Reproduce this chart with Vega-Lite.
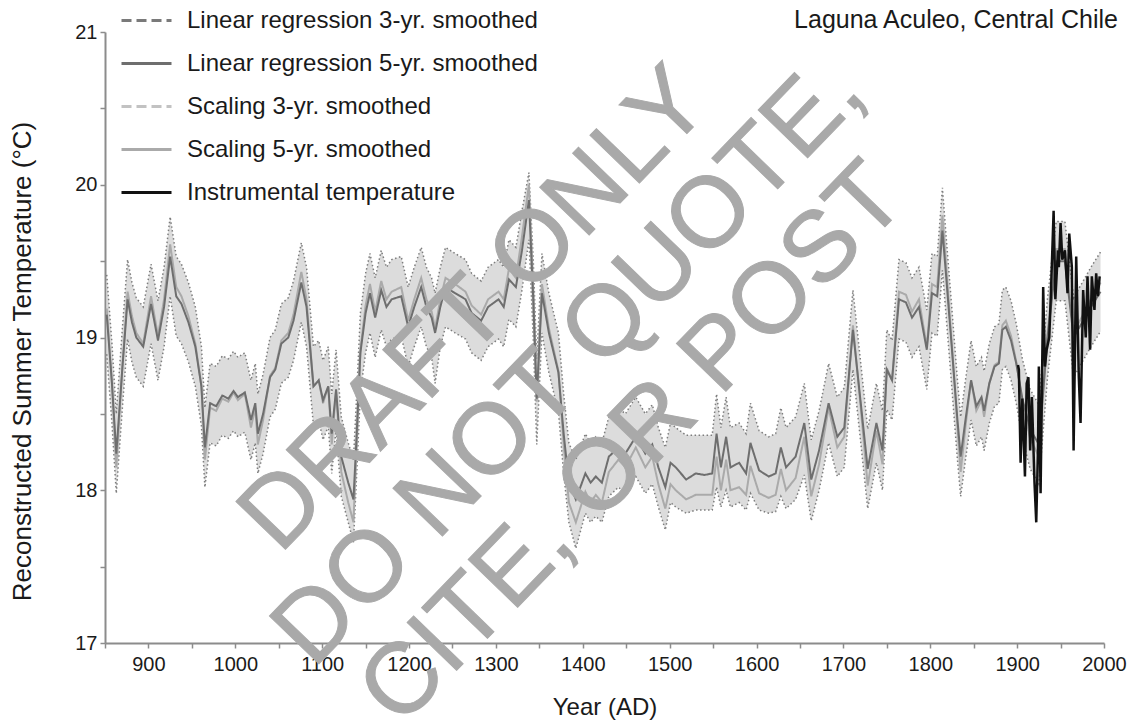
{
  "$schema": "https://vega.github.io/schema/vega-lite/v6.json",
  "width": 999,
  "height": 611,
  "autosize": {"type": "none"},
  "padding": {"left": 105, "top": 32, "right": 31, "bottom": 80},
  "background": "white",
  "config": {
    "font": "Liberation Sans",
    "view": {"stroke": null},
    "axis": {"grid": false}
  },
  "datasets": {
    "rec": [
      {"year": 852, "lr": 19.15, "sc": 19.19, "lo": 18.89, "hi": 19.41},
      {"year": 858, "lr": 18.70, "sc": 18.70, "lo": 18.44, "hi": 18.96},
      {"year": 863, "lr": 18.24, "sc": 18.15, "lo": 17.98, "hi": 18.50},
      {"year": 870, "lr": 18.80, "sc": 18.81, "lo": 18.54, "hi": 19.06},
      {"year": 876, "lr": 19.25, "sc": 19.30, "lo": 18.99, "hi": 19.51},
      {"year": 881, "lr": 19.10, "sc": 19.14, "lo": 18.84, "hi": 19.36},
      {"year": 886, "lr": 19.00, "sc": 19.03, "lo": 18.74, "hi": 19.26},
      {"year": 894, "lr": 18.94, "sc": 18.96, "lo": 18.68, "hi": 19.20},
      {"year": 903, "lr": 19.22, "sc": 19.27, "lo": 18.96, "hi": 19.48},
      {"year": 911, "lr": 18.98, "sc": 19.01, "lo": 18.72, "hi": 19.24},
      {"year": 918, "lr": 19.20, "sc": 19.25, "lo": 18.94, "hi": 19.46},
      {"year": 925, "lr": 19.53, "sc": 19.61, "lo": 19.27, "hi": 19.79},
      {"year": 932, "lr": 19.27, "sc": 19.33, "lo": 19.01, "hi": 19.53},
      {"year": 938, "lr": 19.22, "sc": 19.27, "lo": 18.96, "hi": 19.48},
      {"year": 946, "lr": 19.10, "sc": 19.14, "lo": 18.84, "hi": 19.36},
      {"year": 954, "lr": 18.94, "sc": 18.96, "lo": 18.68, "hi": 19.20},
      {"year": 961, "lr": 18.68, "sc": 18.68, "lo": 18.42, "hi": 18.94},
      {"year": 965, "lr": 18.28, "sc": 18.20, "lo": 18.02, "hi": 18.54},
      {"year": 971, "lr": 18.57, "sc": 18.54, "lo": 18.31, "hi": 18.83},
      {"year": 978, "lr": 18.55, "sc": 18.52, "lo": 18.29, "hi": 18.81},
      {"year": 985, "lr": 18.62, "sc": 18.60, "lo": 18.36, "hi": 18.88},
      {"year": 992, "lr": 18.60, "sc": 18.58, "lo": 18.34, "hi": 18.86},
      {"year": 998, "lr": 18.65, "sc": 18.64, "lo": 18.39, "hi": 18.91},
      {"year": 1003, "lr": 18.61, "sc": 18.59, "lo": 18.35, "hi": 18.87},
      {"year": 1011, "lr": 18.64, "sc": 18.63, "lo": 18.38, "hi": 18.90},
      {"year": 1018, "lr": 18.46, "sc": 18.41, "lo": 18.20, "hi": 18.72},
      {"year": 1023, "lr": 18.57, "sc": 18.54, "lo": 18.31, "hi": 18.83},
      {"year": 1026, "lr": 18.37, "sc": 18.30, "lo": 18.11, "hi": 18.63},
      {"year": 1032, "lr": 18.50, "sc": 18.46, "lo": 18.24, "hi": 18.76},
      {"year": 1040, "lr": 18.74, "sc": 18.75, "lo": 18.48, "hi": 19.00},
      {"year": 1046, "lr": 18.79, "sc": 18.80, "lo": 18.53, "hi": 19.05},
      {"year": 1053, "lr": 18.96, "sc": 18.98, "lo": 18.70, "hi": 19.22},
      {"year": 1061, "lr": 19.00, "sc": 19.03, "lo": 18.74, "hi": 19.26},
      {"year": 1067, "lr": 19.11, "sc": 19.15, "lo": 18.85, "hi": 19.37},
      {"year": 1076, "lr": 19.36, "sc": 19.43, "lo": 19.10, "hi": 19.62},
      {"year": 1082, "lr": 19.20, "sc": 19.25, "lo": 18.94, "hi": 19.46},
      {"year": 1086, "lr": 18.94, "sc": 18.96, "lo": 18.68, "hi": 19.20},
      {"year": 1090, "lr": 18.68, "sc": 18.68, "lo": 18.42, "hi": 18.94},
      {"year": 1096, "lr": 18.72, "sc": 18.72, "lo": 18.46, "hi": 18.98},
      {"year": 1101, "lr": 18.59, "sc": 18.57, "lo": 18.33, "hi": 18.85},
      {"year": 1107, "lr": 18.68, "sc": 18.68, "lo": 18.42, "hi": 18.94},
      {"year": 1111, "lr": 18.37, "sc": 18.30, "lo": 18.11, "hi": 18.63},
      {"year": 1116, "lr": 18.66, "sc": 18.65, "lo": 18.40, "hi": 18.92},
      {"year": 1122, "lr": 18.22, "sc": 18.12, "lo": 17.96, "hi": 18.48},
      {"year": 1130, "lr": 18.05, "sc": 17.92, "lo": 17.79, "hi": 18.31},
      {"year": 1136, "lr": 17.94, "sc": 17.79, "lo": 17.66, "hi": 18.20},
      {"year": 1139, "lr": 18.28, "sc": 18.20, "lo": 18.02, "hi": 18.54},
      {"year": 1144, "lr": 18.90, "sc": 18.92, "lo": 18.64, "hi": 19.16},
      {"year": 1150, "lr": 19.16, "sc": 19.21, "lo": 18.90, "hi": 19.42},
      {"year": 1155, "lr": 19.29, "sc": 19.35, "lo": 19.03, "hi": 19.55},
      {"year": 1161, "lr": 19.13, "sc": 19.17, "lo": 18.87, "hi": 19.39},
      {"year": 1168, "lr": 19.31, "sc": 19.37, "lo": 19.05, "hi": 19.57},
      {"year": 1174, "lr": 19.20, "sc": 19.25, "lo": 18.94, "hi": 19.46},
      {"year": 1180, "lr": 19.25, "sc": 19.30, "lo": 18.99, "hi": 19.51},
      {"year": 1191, "lr": 19.27, "sc": 19.33, "lo": 19.01, "hi": 19.53},
      {"year": 1199, "lr": 19.07, "sc": 19.11, "lo": 18.81, "hi": 19.33},
      {"year": 1206, "lr": 19.20, "sc": 19.25, "lo": 18.94, "hi": 19.46},
      {"year": 1214, "lr": 19.33, "sc": 19.39, "lo": 19.07, "hi": 19.59},
      {"year": 1220, "lr": 19.20, "sc": 19.25, "lo": 18.94, "hi": 19.46},
      {"year": 1226, "lr": 19.13, "sc": 19.17, "lo": 18.87, "hi": 19.39},
      {"year": 1230, "lr": 19.03, "sc": 19.06, "lo": 18.70, "hi": 19.29},
      {"year": 1236, "lr": 19.20, "sc": 19.25, "lo": 18.94, "hi": 19.46},
      {"year": 1242, "lr": 19.33, "sc": 19.39, "lo": 19.07, "hi": 19.59},
      {"year": 1253, "lr": 19.29, "sc": 19.35, "lo": 19.03, "hi": 19.55},
      {"year": 1265, "lr": 19.25, "sc": 19.30, "lo": 18.99, "hi": 19.51},
      {"year": 1272, "lr": 19.16, "sc": 19.21, "lo": 18.90, "hi": 19.42},
      {"year": 1283, "lr": 19.11, "sc": 19.15, "lo": 18.85, "hi": 19.37},
      {"year": 1291, "lr": 19.20, "sc": 19.25, "lo": 18.94, "hi": 19.46},
      {"year": 1303, "lr": 19.25, "sc": 19.30, "lo": 18.99, "hi": 19.51},
      {"year": 1309, "lr": 19.20, "sc": 19.25, "lo": 18.94, "hi": 19.46},
      {"year": 1315, "lr": 19.38, "sc": 19.45, "lo": 19.12, "hi": 19.64},
      {"year": 1323, "lr": 19.33, "sc": 19.39, "lo": 19.07, "hi": 19.59},
      {"year": 1330, "lr": 19.57, "sc": 19.66, "lo": 19.31, "hi": 19.83},
      {"year": 1338, "lr": 19.90, "sc": 20.00, "lo": 19.64, "hi": 20.08},
      {"year": 1343, "lr": 19.25, "sc": 19.30, "lo": 18.99, "hi": 19.51},
      {"year": 1347, "lr": 18.60, "sc": 18.58, "lo": 18.30, "hi": 18.86},
      {"year": 1353, "lr": 19.29, "sc": 19.35, "lo": 19.03, "hi": 19.55},
      {"year": 1361, "lr": 19.03, "sc": 19.06, "lo": 18.77, "hi": 19.29},
      {"year": 1372, "lr": 18.77, "sc": 18.78, "lo": 18.51, "hi": 19.03},
      {"year": 1378, "lr": 18.37, "sc": 18.30, "lo": 18.11, "hi": 18.63},
      {"year": 1384, "lr": 18.05, "sc": 17.92, "lo": 17.79, "hi": 18.31},
      {"year": 1392, "lr": 17.94, "sc": 17.79, "lo": 17.62, "hi": 18.20},
      {"year": 1403, "lr": 18.11, "sc": 17.99, "lo": 17.85, "hi": 18.37},
      {"year": 1409, "lr": 18.05, "sc": 17.92, "lo": 17.79, "hi": 18.31},
      {"year": 1415, "lr": 18.09, "sc": 17.97, "lo": 17.83, "hi": 18.35},
      {"year": 1422, "lr": 18.05, "sc": 17.92, "lo": 17.79, "hi": 18.31},
      {"year": 1430, "lr": 18.22, "sc": 18.12, "lo": 17.96, "hi": 18.48},
      {"year": 1441, "lr": 18.28, "sc": 18.20, "lo": 18.02, "hi": 18.54},
      {"year": 1449, "lr": 18.24, "sc": 18.15, "lo": 17.98, "hi": 18.50},
      {"year": 1461, "lr": 18.35, "sc": 18.28, "lo": 18.09, "hi": 18.61},
      {"year": 1472, "lr": 18.24, "sc": 18.15, "lo": 17.98, "hi": 18.50},
      {"year": 1480, "lr": 18.30, "sc": 18.22, "lo": 18.04, "hi": 18.56},
      {"year": 1487, "lr": 18.15, "sc": 18.04, "lo": 17.89, "hi": 18.41},
      {"year": 1495, "lr": 18.02, "sc": 17.88, "lo": 17.74, "hi": 18.28},
      {"year": 1501, "lr": 18.18, "sc": 18.04, "lo": 17.92, "hi": 18.44},
      {"year": 1507, "lr": 18.15, "sc": 18.00, "lo": 17.89, "hi": 18.41},
      {"year": 1519, "lr": 18.07, "sc": 17.94, "lo": 17.85, "hi": 18.36},
      {"year": 1530, "lr": 18.11, "sc": 17.97, "lo": 17.87, "hi": 18.36},
      {"year": 1540, "lr": 18.10, "sc": 17.97, "lo": 17.87, "hi": 18.36},
      {"year": 1549, "lr": 18.11, "sc": 17.97, "lo": 17.87, "hi": 18.36},
      {"year": 1554, "lr": 18.37, "sc": 18.22, "lo": 18.02, "hi": 18.63},
      {"year": 1559, "lr": 18.15, "sc": 18.00, "lo": 17.89, "hi": 18.41},
      {"year": 1565, "lr": 18.35, "sc": 18.20, "lo": 18.00, "hi": 18.61},
      {"year": 1570, "lr": 18.15, "sc": 18.00, "lo": 17.89, "hi": 18.41},
      {"year": 1580, "lr": 18.18, "sc": 18.02, "lo": 17.92, "hi": 18.44},
      {"year": 1588, "lr": 18.11, "sc": 17.97, "lo": 17.87, "hi": 18.37},
      {"year": 1593, "lr": 18.31, "sc": 18.16, "lo": 17.98, "hi": 18.57},
      {"year": 1603, "lr": 18.13, "sc": 17.98, "lo": 17.87, "hi": 18.39},
      {"year": 1614, "lr": 18.09, "sc": 17.95, "lo": 17.85, "hi": 18.35},
      {"year": 1622, "lr": 18.11, "sc": 17.97, "lo": 17.86, "hi": 18.37},
      {"year": 1628, "lr": 18.28, "sc": 18.14, "lo": 17.96, "hi": 18.54},
      {"year": 1634, "lr": 18.15, "sc": 18.00, "lo": 17.88, "hi": 18.41},
      {"year": 1645, "lr": 18.22, "sc": 18.08, "lo": 17.94, "hi": 18.48},
      {"year": 1655, "lr": 18.44, "sc": 18.35, "lo": 18.10, "hi": 18.70},
      {"year": 1663, "lr": 18.07, "sc": 17.96, "lo": 17.80, "hi": 18.33},
      {"year": 1672, "lr": 18.26, "sc": 18.17, "lo": 18.00, "hi": 18.52},
      {"year": 1683, "lr": 18.57, "sc": 18.54, "lo": 18.31, "hi": 18.83},
      {"year": 1693, "lr": 18.35, "sc": 18.28, "lo": 18.09, "hi": 18.61},
      {"year": 1701, "lr": 18.41, "sc": 18.35, "lo": 18.15, "hi": 18.67},
      {"year": 1711, "lr": 19.05, "sc": 19.08, "lo": 18.79, "hi": 19.31},
      {"year": 1720, "lr": 18.57, "sc": 18.54, "lo": 18.31, "hi": 18.83},
      {"year": 1728, "lr": 18.14, "sc": 18.03, "lo": 17.88, "hi": 18.40},
      {"year": 1738, "lr": 18.44, "sc": 18.39, "lo": 18.18, "hi": 18.70},
      {"year": 1745, "lr": 18.26, "sc": 18.17, "lo": 18.00, "hi": 18.52},
      {"year": 1750, "lr": 18.79, "sc": 18.80, "lo": 18.53, "hi": 19.05},
      {"year": 1756, "lr": 18.72, "sc": 18.72, "lo": 18.46, "hi": 18.98},
      {"year": 1764, "lr": 19.25, "sc": 19.30, "lo": 18.99, "hi": 19.51},
      {"year": 1772, "lr": 19.23, "sc": 19.28, "lo": 18.97, "hi": 19.49},
      {"year": 1779, "lr": 19.13, "sc": 19.17, "lo": 18.87, "hi": 19.39},
      {"year": 1787, "lr": 19.20, "sc": 19.25, "lo": 18.94, "hi": 19.46},
      {"year": 1796, "lr": 18.92, "sc": 18.94, "lo": 18.66, "hi": 19.18},
      {"year": 1802, "lr": 19.29, "sc": 19.35, "lo": 19.03, "hi": 19.55},
      {"year": 1808, "lr": 19.27, "sc": 19.33, "lo": 19.01, "hi": 19.53},
      {"year": 1814, "lr": 19.70, "sc": 19.80, "lo": 19.44, "hi": 19.98},
      {"year": 1818, "lr": 19.42, "sc": 19.49, "lo": 19.16, "hi": 19.68},
      {"year": 1825, "lr": 18.92, "sc": 18.94, "lo": 18.66, "hi": 19.18},
      {"year": 1831, "lr": 18.48, "sc": 18.44, "lo": 18.22, "hi": 18.74},
      {"year": 1835, "lr": 18.22, "sc": 18.12, "lo": 17.96, "hi": 18.48},
      {"year": 1841, "lr": 18.48, "sc": 18.44, "lo": 18.22, "hi": 18.74},
      {"year": 1847, "lr": 18.72, "sc": 18.72, "lo": 18.46, "hi": 18.98},
      {"year": 1853, "lr": 18.55, "sc": 18.52, "lo": 18.29, "hi": 18.81},
      {"year": 1859, "lr": 18.61, "sc": 18.59, "lo": 18.35, "hi": 18.87},
      {"year": 1862, "lr": 18.52, "sc": 18.48, "lo": 18.26, "hi": 18.78},
      {"year": 1868, "lr": 18.70, "sc": 18.70, "lo": 18.44, "hi": 18.96},
      {"year": 1874, "lr": 18.81, "sc": 18.82, "lo": 18.55, "hi": 19.07},
      {"year": 1879, "lr": 18.83, "sc": 18.84, "lo": 18.57, "hi": 19.09},
      {"year": 1883, "lr": 19.05, "sc": 19.08, "lo": 18.79, "hi": 19.31},
      {"year": 1887, "lr": 19.07, "sc": 19.11, "lo": 18.81, "hi": 19.33},
      {"year": 1893, "lr": 18.98, "sc": 19.01, "lo": 18.72, "hi": 19.24},
      {"year": 1899, "lr": 18.83, "sc": 18.84, "lo": 18.57, "hi": 19.09},
      {"year": 1906, "lr": 18.60, "sc": 18.58, "lo": 18.34, "hi": 18.86},
      {"year": 1915, "lr": 18.40, "sc": 18.34, "lo": 18.14, "hi": 18.66},
      {"year": 1925, "lr": 18.30, "sc": 18.22, "lo": 18.04, "hi": 18.56},
      {"year": 1935, "lr": 19.00, "sc": 19.03, "lo": 18.74, "hi": 19.26},
      {"year": 1945, "lr": 19.50, "sc": 19.58, "lo": 19.24, "hi": 19.76},
      {"year": 1955, "lr": 19.50, "sc": 19.58, "lo": 19.24, "hi": 19.76},
      {"year": 1965, "lr": 19.00, "sc": 19.03, "lo": 18.74, "hi": 19.26},
      {"year": 1975, "lr": 19.10, "sc": 19.14, "lo": 18.84, "hi": 19.36},
      {"year": 1985, "lr": 19.20, "sc": 19.25, "lo": 18.94, "hi": 19.46},
      {"year": 1996, "lr": 19.30, "sc": 19.36, "lo": 19.04, "hi": 19.56}
    ],
    "inst": [
      {"year": 1901, "t": 18.82},
      {"year": 1902, "t": 18.79},
      {"year": 1904, "t": 18.18},
      {"year": 1906, "t": 18.60},
      {"year": 1909, "t": 18.09},
      {"year": 1911, "t": 18.70},
      {"year": 1913, "t": 18.74},
      {"year": 1915, "t": 18.26},
      {"year": 1917, "t": 18.61},
      {"year": 1920, "t": 18.05},
      {"year": 1922, "t": 17.79},
      {"year": 1924, "t": 18.26},
      {"year": 1925, "t": 18.81},
      {"year": 1927, "t": 17.98},
      {"year": 1930, "t": 19.33},
      {"year": 1932, "t": 18.81},
      {"year": 1934, "t": 18.92},
      {"year": 1937, "t": 19.00},
      {"year": 1939, "t": 19.31},
      {"year": 1942, "t": 19.83},
      {"year": 1944, "t": 19.25},
      {"year": 1947, "t": 19.57},
      {"year": 1948, "t": 19.46},
      {"year": 1950, "t": 19.75},
      {"year": 1952, "t": 19.51},
      {"year": 1955, "t": 19.57},
      {"year": 1958, "t": 19.29},
      {"year": 1960, "t": 19.68},
      {"year": 1963, "t": 19.46},
      {"year": 1965, "t": 18.26},
      {"year": 1968, "t": 19.53},
      {"year": 1971, "t": 18.74},
      {"year": 1973, "t": 18.44},
      {"year": 1976, "t": 19.31},
      {"year": 1979, "t": 19.00},
      {"year": 1981, "t": 19.40},
      {"year": 1984, "t": 18.92},
      {"year": 1986, "t": 19.40},
      {"year": 1989, "t": 19.18},
      {"year": 1991, "t": 19.42},
      {"year": 1993, "t": 19.27},
      {"year": 1995, "t": 19.40}
    ],
    "notes": [
      {"label": "Laguna Aculeo, Central Chile"}
    ]
  },
  "layer": [
    {
      "data": {"name": "rec"},
      "mark": {"type": "area", "color": "#dcdcdc", "opacity": 1},
      "encoding": {
        "x": {
          "field": "year",
          "type": "quantitative",
          "scale": {"domain": [850, 2000], "nice": false, "zero": false},
          "axis": {
            "title": "Year (AD)",
            "values": [850, 900, 950, 1000, 1050, 1100, 1150, 1200, 1250, 1300, 1350, 1400, 1450, 1500, 1550, 1600, 1650, 1700, 1750, 1800, 1850, 1900, 1950, 2000],
            "labelExpr": "datum.value % 100 === 0 ? format(datum.value, 'd') : ''",
            "domainColor": "#8c8c8c",
            "domainWidth": 2,
            "tickColor": "#8c8c8c",
            "tickWidth": 1.5,
            "tickSize": 5,
            "labelFontSize": 20,
            "labelColor": "#1a1a1a",
            "labelPadding": 6,
            "labelFlush": false,
            "labelOverlap": false,
            "titleFontSize": 24,
            "titleFontWeight": "normal",
            "titleColor": "#1a1a1a",
            "titlePadding": 21
          }
        },
        "y": {
          "field": "lo",
          "type": "quantitative",
          "scale": {"domain": [17, 21], "nice": false, "zero": false},
          "axis": {
            "title": "Reconstructed Summer Temperature (°C)",
            "values": [17, 17.5, 18, 18.5, 19, 19.5, 20, 20.5, 21],
            "labelExpr": "datum.value % 1 === 0 ? format(datum.value, 'd') : ''",
            "domainColor": "#8c8c8c",
            "domainWidth": 2,
            "tickColor": "#8c8c8c",
            "tickWidth": 1.5,
            "tickSize": 5,
            "labelFontSize": 20,
            "labelColor": "#1a1a1a",
            "labelPadding": 3,
            "labelOverlap": false,
            "titleFontSize": 26,
            "titleFontWeight": "normal",
            "titleColor": "#1a1a1a",
            "titleX": -83,
            "titleY": 329,
            "titleBaseline": "middle",
            "titleAlign": "center"
          }
        },
        "y2": {"field": "hi"}
      }
    },
    {
      "data": {"name": "rec"},
      "mark": {"type": "line", "color": "#7d7d7d", "strokeWidth": 1.5, "strokeDash": [1.5, 2.5]},
      "encoding": {
        "x": {"field": "year", "type": "quantitative"},
        "y": {"field": "hi", "type": "quantitative"}
      }
    },
    {
      "data": {"name": "rec"},
      "mark": {"type": "line", "color": "#7d7d7d", "strokeWidth": 1.5, "strokeDash": [1.5, 2.5]},
      "encoding": {
        "x": {"field": "year", "type": "quantitative"},
        "y": {"field": "lo", "type": "quantitative"}
      }
    },
    {
      "data": {"name": "rec"},
      "transform": [{"fold": ["sc", "lr"], "as": ["series", "value"]}],
      "mark": {"type": "line", "strokeWidth": 2},
      "encoding": {
        "x": {"field": "year", "type": "quantitative"},
        "y": {"field": "value", "type": "quantitative"},
        "color": {
          "field": "series",
          "type": "nominal",
          "scale": {
            "domain": ["lr3", "lr", "sc3", "sc", "inst"],
            "range": ["#7a7a7a", "#6e6e6e", "#c2c2c2", "#aaaaaa", "#111111"]
          },
          "legend": {
            "title": null,
            "orient": "none",
            "legendX": 15,
            "legendY": -38,
            "padding": 0,
            "symbolType": "stroke",
            "symbolSize": 2500,
            "symbolStrokeWidth": 3,
            "labelFontSize": 24,
            "labelColor": "#1a1a1a",
            "labelOffset": 14,
            "rowPadding": 4,
            "labelLimit": 600,
            "labelExpr": "{'lr3': 'Linear regression 3-yr. smoothed', 'lr': 'Linear regression 5-yr. smoothed', 'sc3': 'Scaling 3-yr. smoothed', 'sc': 'Scaling 5-yr. smoothed', 'inst': 'Instrumental temperature'}[datum.label]"
          }
        },
        "strokeDash": {
          "field": "series",
          "type": "nominal",
          "scale": {
            "domain": ["lr3", "lr", "sc3", "sc", "inst"],
            "range": [[10, 5], [1, 0], [10, 5], [1, 0], [1, 0]]
          },
          "legend": null
        }
      }
    },
    {
      "data": {"name": "inst"},
      "mark": {"type": "line", "strokeWidth": 2.5},
      "encoding": {
        "x": {"field": "year", "type": "quantitative"},
        "y": {"field": "t", "type": "quantitative"},
        "color": {"datum": "inst"},
        "strokeDash": {"datum": "inst"}
      }
    },
    {
      "data": {"name": "notes"},
      "mark": {"type": "text", "fontSize": 100, "angle": -46, "color": "#a9a9a9", "align": "center", "baseline": "middle", "stroke": "#a9a9a9", "strokeWidth": 1},
      "encoding": {"x": {"datum": 1276}, "y": {"datum": 19.18}, "text": {"value": "DRAFT ONLY"}}
    },
    {
      "data": {"name": "notes"},
      "mark": {"type": "text", "fontSize": 100, "angle": -46, "color": "#a9a9a9", "align": "center", "baseline": "middle", "stroke": "#a9a9a9", "strokeWidth": 1},
      "encoding": {"x": {"datum": 1384}, "y": {"datum": 18.84}, "text": {"value": "DO NOT QUOTE,"}}
    },
    {
      "data": {"name": "notes"},
      "mark": {"type": "text", "fontSize": 100, "angle": -46, "color": "#a9a9a9", "align": "center", "baseline": "middle", "stroke": "#a9a9a9", "strokeWidth": 1},
      "encoding": {"x": {"datum": 1458}, "y": {"datum": 18.3}, "text": {"value": "CITE, OR POST"}}
    },
    {
      "data": {"name": "notes"},
      "mark": {"type": "text", "fontSize": 25, "color": "#1a1a1a", "align": "right", "baseline": "middle"},
      "encoding": {"x": {"datum": 2016}, "y": {"datum": 21.08}, "text": {"field": "label"}}
    }
  ]
}
